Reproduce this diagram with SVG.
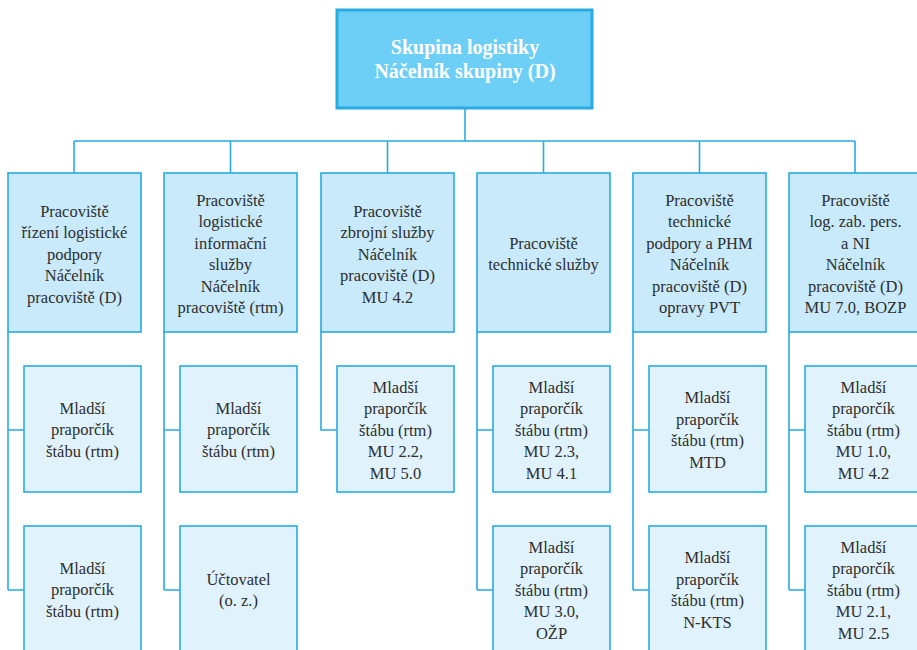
<svg xmlns="http://www.w3.org/2000/svg" width="917" height="650" viewBox="0 0 917 650">
  <style>
    .top { fill: #6dcff6; stroke: #29abe2; stroke-width: 3; }
    .head { fill: #c8eafa; stroke: #29abe2; stroke-width: 1.6; }
    .sub { fill: #e0f3fc; stroke: #29abe2; stroke-width: 1.6; }
    .conn { fill: none; stroke: #29abe2; stroke-width: 1.6; }
    text { font-family: 'Liberation Serif', 'DejaVu Serif', serif; font-size: 16.5px; fill: #2e2e2e; text-anchor: middle; }
    .tt { font-size: 20px; font-weight: bold; fill: #ffffff; }
  </style>
  <rect width="917" height="650" fill="#ffffff"/>

  <!-- connectors -->
  <g id="connectors" class="conn">
    <path d="M465 108 V141 M74 141 H855"/>
    <path d="M74 141 V173 M230.5 141 V173 M387.5 141 V173 M543.5 141 V173 M699.5 141 V173 M855 141 V173"/>
    <path d="M8 332 V590 M8 430 H24 M8 590 H24"/>
    <path d="M164 332 V590 M164 430 H180 M164 590 H180"/>
    <path d="M321 332 V430 H337"/>
    <path d="M477 332 V590 M477 430 H493 M477 590 H493"/>
    <path d="M633 332 V590 M633 430 H649 M633 590 H649"/>
    <path d="M789 332 V590 M789 430 H805 M789 590 H805"/>
  </g>

  <!-- top node -->
  <g id="skupina">
    <rect class="top" x="337" y="10" width="255" height="98"/>
    <text class="tt" x="465" y="54">Skupina logistiky</text>
    <text class="tt" x="465" y="78">Náčelník skupiny (D)</text>
  </g>

  <!-- workplaces -->
  <g id="p1">
    <rect class="head" x="8" y="173" width="133" height="159"/>
    <text x="74.5" y="216.5">Pracoviště</text>
    <text x="74.5" y="238">řízení logistické</text>
    <text x="74.5" y="259.5">podpory</text>
    <text x="74.5" y="281">Náčelník</text>
    <text x="74.5" y="302.5">pracoviště (D)</text>
  </g>
  <g id="p2">
    <rect class="head" x="164" y="173" width="133" height="159"/>
    <text x="230.5" y="205.5">Pracoviště</text>
    <text x="230.5" y="227">logistické</text>
    <text x="230.5" y="248.5">informační</text>
    <text x="230.5" y="270">služby</text>
    <text x="230.5" y="291.5">Náčelník</text>
    <text x="230.5" y="313">pracoviště (rtm)</text>
  </g>
  <g id="p3">
    <rect class="head" x="321" y="173" width="133" height="159"/>
    <text x="387.5" y="216.5">Pracoviště</text>
    <text x="387.5" y="238">zbrojní služby</text>
    <text x="387.5" y="259.5">Náčelník</text>
    <text x="387.5" y="281">pracoviště (D)</text>
    <text x="387.5" y="302.5">MU 4.2</text>
  </g>
  <g id="p4">
    <rect class="head" x="477" y="173" width="133" height="159"/>
    <text x="543.5" y="248.5">Pracoviště</text>
    <text x="543.5" y="270">technické služby</text>
  </g>
  <g id="p5">
    <rect class="head" x="633" y="173" width="133" height="159"/>
    <text x="699.5" y="205.5">Pracoviště</text>
    <text x="699.5" y="227">technické</text>
    <text x="699.5" y="248.5">podpory a PHM</text>
    <text x="699.5" y="270">Náčelník</text>
    <text x="699.5" y="291.5">pracoviště (D)</text>
    <text x="699.5" y="313">opravy PVT</text>
  </g>
  <g id="p6">
    <rect class="head" x="789" y="173" width="133" height="159"/>
    <text x="855.5" y="205.5">Pracoviště</text>
    <text x="855.5" y="227">log. zab. pers.</text>
    <text x="855.5" y="248.5">a NI</text>
    <text x="855.5" y="270">Náčelník</text>
    <text x="855.5" y="291.5">pracoviště (D)</text>
    <text x="855.5" y="313">MU 7.0, BOZP</text>
  </g>

  <!-- staff positions -->
  <g id="p1a">
    <rect class="sub" x="24" y="366" width="117" height="126"/>
    <text x="82.5" y="413.5">Mladší</text>
    <text x="82.5" y="435">praporčík</text>
    <text x="82.5" y="456.5">štábu (rtm)</text>
  </g>
  <g id="p1b">
    <rect class="sub" x="24" y="526" width="117" height="130"/>
    <text x="82.5" y="573.5">Mladší</text>
    <text x="82.5" y="595">praporčík</text>
    <text x="82.5" y="616.5">štábu (rtm)</text>
  </g>
  <g id="p2a">
    <rect class="sub" x="180" y="366" width="117" height="126"/>
    <text x="238.5" y="413.5">Mladší</text>
    <text x="238.5" y="435">praporčík</text>
    <text x="238.5" y="456.5">štábu (rtm)</text>
  </g>
  <g id="p2b">
    <rect class="sub" x="180" y="526" width="117" height="130"/>
    <text x="238.5" y="584.5">Účtovatel</text>
    <text x="238.5" y="606">(o. z.)</text>
  </g>
  <g id="p3a">
    <rect class="sub" x="337" y="366" width="117" height="126"/>
    <text x="395.5" y="392.5">Mladší</text>
    <text x="395.5" y="414">praporčík</text>
    <text x="395.5" y="435.5">štábu (rtm)</text>
    <text x="395.5" y="457">MU 2.2,</text>
    <text x="395.5" y="478.5">MU 5.0</text>
  </g>
  <g id="p4a">
    <rect class="sub" x="493" y="366" width="117" height="126"/>
    <text x="551.5" y="392.5">Mladší</text>
    <text x="551.5" y="414">praporčík</text>
    <text x="551.5" y="435.5">štábu (rtm)</text>
    <text x="551.5" y="457">MU 2.3,</text>
    <text x="551.5" y="478.5">MU 4.1</text>
  </g>
  <g id="p4b">
    <rect class="sub" x="493" y="526" width="117" height="130"/>
    <text x="551.5" y="552.5">Mladší</text>
    <text x="551.5" y="574">praporčík</text>
    <text x="551.5" y="595.5">štábu (rtm)</text>
    <text x="551.5" y="617">MU 3.0,</text>
    <text x="551.5" y="638.5">OŽP</text>
  </g>
  <g id="p5a">
    <rect class="sub" x="649" y="366" width="117" height="126"/>
    <text x="707.5" y="403">Mladší</text>
    <text x="707.5" y="424.5">praporčík</text>
    <text x="707.5" y="446">štábu (rtm)</text>
    <text x="707.5" y="467.5">MTD</text>
  </g>
  <g id="p5b">
    <rect class="sub" x="649" y="526" width="117" height="130"/>
    <text x="707.5" y="563">Mladší</text>
    <text x="707.5" y="584.5">praporčík</text>
    <text x="707.5" y="606">štábu (rtm)</text>
    <text x="707.5" y="627.5">N-KTS</text>
  </g>
  <g id="p6a">
    <rect class="sub" x="805" y="366" width="117" height="126"/>
    <text x="863.5" y="392.5">Mladší</text>
    <text x="863.5" y="414">praporčík</text>
    <text x="863.5" y="435.5">štábu (rtm)</text>
    <text x="863.5" y="457">MU 1.0,</text>
    <text x="863.5" y="478.5">MU 4.2</text>
  </g>
  <g id="p6b">
    <rect class="sub" x="805" y="526" width="117" height="130"/>
    <text x="863.5" y="552.5">Mladší</text>
    <text x="863.5" y="574">praporčík</text>
    <text x="863.5" y="595.5">štábu (rtm)</text>
    <text x="863.5" y="617">MU 2.1,</text>
    <text x="863.5" y="638.5">MU 2.5</text>
  </g>
</svg>
